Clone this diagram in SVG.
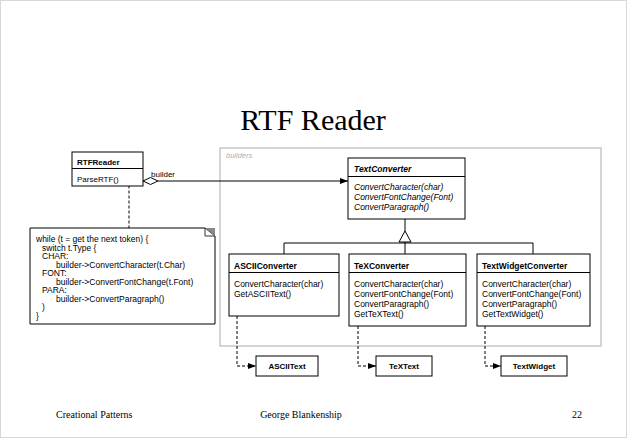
<svg xmlns="http://www.w3.org/2000/svg" width="627" height="438" viewBox="0 0 627 438">
  <style>
    .box { fill: #fff; stroke: #000; stroke-width: 1; }
    .t { font-family: "Liberation Sans", Arial, sans-serif; font-size: 8.5px; fill: #000; }
    .tb { font-family: "Liberation Sans", Arial, sans-serif; font-size: 8.5px; font-weight: bold; fill: #000; }
    .sm { font-size: 8px; }
    .ti { font-style: italic; }
    .ln { fill: none; stroke: #000; stroke-width: 1; }
    .dash { fill: none; stroke: #000; stroke-width: 1; stroke-dasharray: 3 2; }
    .foot { font-family: "Liberation Serif", "Times New Roman", serif; font-size: 10px; fill: #000; }
  </style>
  <defs>
    <marker id="arrowFilled" viewBox="0 0 8 6" refX="8" refY="3" markerWidth="8" markerHeight="6" orient="auto" markerUnits="userSpaceOnUse">
      <path d="M0,0 L8,3 L0,6 Z" fill="#000"/>
    </marker>
  </defs>

  <rect x="0" y="0" width="627" height="438" fill="#fff"/>
  <rect x="0.5" y="0.5" width="626" height="437" fill="none" stroke="#d8d8d8" stroke-width="1"/>

  <text x="313" y="130" text-anchor="middle" font-family="Liberation Serif, 'Times New Roman', serif" font-size="30">RTF Reader</text>

  <!-- builders package frame -->
  <g id="builders">
    <rect x="220" y="148" width="381" height="198" fill="none" stroke="#c8c8c8" stroke-width="1.5"/>
    <text x="226" y="158" font-family="Liberation Sans, Arial, sans-serif" font-size="7.5" font-style="italic" fill="#b0b0b0">builders</text>
  </g>

  <g id="connectors">
    <!-- aggregation RTFReader -> TextConverter -->
    <path class="ln" d="M158,181 H348" marker-end="url(#arrowFilled)"/>
    <path d="M143,181 L150.5,177.5 L158,181 L150.5,184.5 Z" fill="#fff" stroke="#000" stroke-width="1"/>
    <text class="t sm" x="151" y="177">builder</text>
    <!-- note anchor -->
    <circle cx="129" cy="178" r="2.5" fill="#fff" stroke="#000" stroke-width="1"/>
    <path class="dash" d="M129,180.5 V228"/>
    <!-- generalization -->
    <path class="ln" d="M405,219 V231"/>
    <path d="M405,231 L411,242 L399,242 Z" fill="#fff" stroke="#000" stroke-width="1"/>
    <path class="ln" d="M405,242 V254 M284,254 V243 H533 V254"/>
    <!-- creates product -->
    <path class="dash" d="M237,316 V366 H256" marker-end="url(#arrowFilled)"/>
    <path class="dash" d="M358,326 V366 H376" marker-end="url(#arrowFilled)"/>
    <path class="dash" d="M485,326 V366 H501" marker-end="url(#arrowFilled)"/>
  </g>

  <g id="RTFReader">
    <rect class="box" x="72" y="152" width="71" height="34"/>
    <path class="ln" d="M72,168.5 H143"/>
    <text class="tb sm" x="77" y="164.5">RTFReader</text>
    <text class="t sm" x="77" y="181.5">ParseRTF()</text>
  </g>

  <g id="note">
    <path d="M30,228 H205 L215,236 V324 H30 Z" fill="#fff" stroke="#000" stroke-width="1"/>
    <path d="M205,228 L215,236 L205,236 Z" fill="#fff" stroke="#000" stroke-width="0.8"/>
    <path d="M205,228 L215,228 L215,236 Z" fill="#888"/>
    <text class="t" x="36" y="242">while (t = get the next token) {</text>
    <text class="t" x="42" y="250.5">switch t.Type {</text>
    <text class="t" x="42" y="259">CHAR:</text>
    <text class="t" x="56" y="267.5">builder-&gt;ConvertCharacter(t.Char)</text>
    <text class="t" x="42" y="276">FONT:</text>
    <text class="t" x="56" y="284.5">builder-&gt;ConvertFontChange(t.Font)</text>
    <text class="t" x="42" y="293">PARA:</text>
    <text class="t" x="56" y="301.5">builder-&gt;ConvertParagraph()</text>
    <text class="t" x="42" y="310">)</text>
    <text class="t" x="36" y="318.5">}</text>
  </g>

  <g id="TextConverter">
    <rect class="box" x="348" y="158" width="117" height="61"/>
    <path class="ln" d="M348,176.5 H465"/>
    <text class="tb ti" x="354" y="172">TextConverter</text>
    <text class="t ti" x="354" y="190">ConvertCharacter(char)</text>
    <text class="t ti" x="354" y="200">ConvertFontChange(Font)</text>
    <text class="t ti" x="354" y="210">ConvertParagraph()</text>
  </g>

  <g id="ASCIIConverter">
    <rect class="box" x="229" y="254" width="110" height="62"/>
    <path class="ln" d="M229,272.5 H339"/>
    <text class="tb" x="234" y="268.5">ASCIIConverter</text>
    <text class="t" x="234" y="286.5">ConvertCharacter(char)</text>
    <text class="t" x="234" y="296.5">GetASCIIText()</text>
  </g>

  <g id="TeXConverter">
    <rect class="box" x="349" y="254" width="117" height="72"/>
    <path class="ln" d="M349,272.5 H466"/>
    <text class="tb" x="354" y="268.5">TeXConverter</text>
    <text class="t" x="354" y="286.5">ConvertCharacter(char)</text>
    <text class="t" x="354" y="296.5">ConvertFontChange(Font)</text>
    <text class="t" x="354" y="306.5">ConvertParagraph()</text>
    <text class="t" x="354" y="316.5">GetTeXText()</text>
  </g>

  <g id="TextWidgetConverter">
    <rect class="box" x="477" y="254" width="113" height="72"/>
    <path class="ln" d="M477,272.5 H590"/>
    <text class="tb" x="482" y="268.5">TextWidgetConverter</text>
    <text class="t" x="482" y="286.5">ConvertCharacter(char)</text>
    <text class="t" x="482" y="296.5">ConvertFontChange(Font)</text>
    <text class="t" x="482" y="306.5">ConvertParagraph()</text>
    <text class="t" x="482" y="316.5">GetTextWidget()</text>
  </g>

  <g id="ASCIIText">
    <rect class="box" x="256" y="356" width="62" height="20"/>
    <text class="tb sm" x="287" y="369" text-anchor="middle">ASCIIText</text>
  </g>
  <g id="TeXText">
    <rect class="box" x="376" y="356" width="56" height="20"/>
    <text class="tb sm" x="404" y="369" text-anchor="middle">TeXText</text>
  </g>
  <g id="TextWidget">
    <rect class="box" x="501" y="356" width="66" height="20"/>
    <text class="tb sm" x="534" y="369" text-anchor="middle">TextWidget</text>
  </g>

  <g id="footer">
    <text class="foot" x="56" y="418">Creational Patterns</text>
    <text class="foot" x="301" y="418" text-anchor="middle">George Blankenship</text>
    <text class="foot" x="582" y="418" text-anchor="end">22</text>
  </g>
</svg>
